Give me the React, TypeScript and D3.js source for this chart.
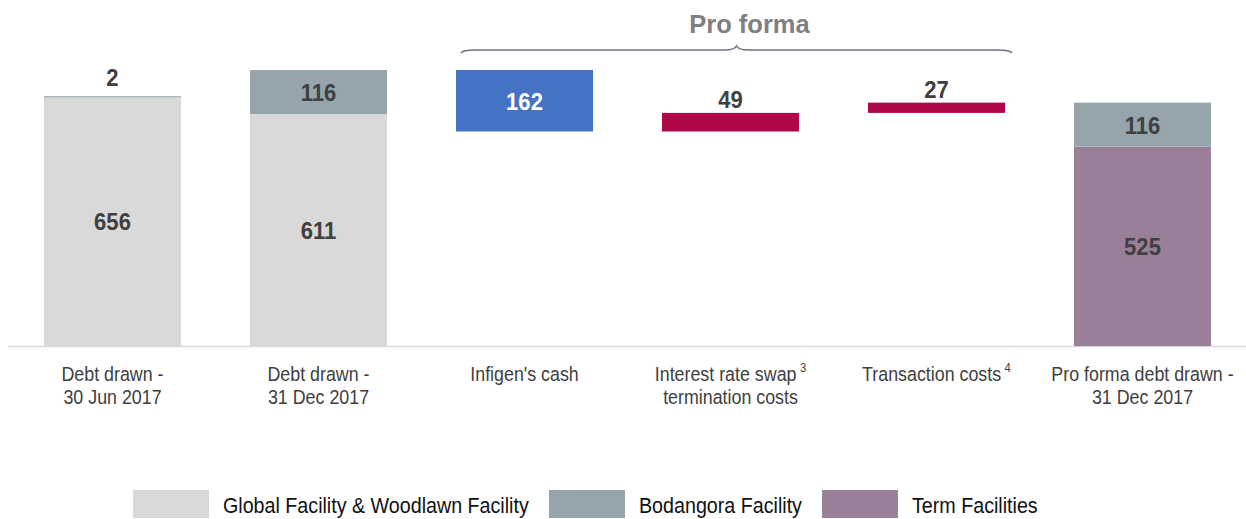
import React from "react";
import * as d3 from "d3";

const categories: string[][] = [
  ["Debt drawn -", "30 Jun 2017"],
  ["Debt drawn -", "31 Dec 2017"],
  ["Infigen's cash"],
  ["Interest rate swap", "termination costs"],
  ["Transaction costs"],
  ["Pro forma debt drawn -", "31 Dec 2017"],
];
const footnotes: (string | null)[] = [null, null, null, "3", "4", null];

// stacked totals (null = waterfall step)
const globalFacility: (number | null)[] = [656, 611, null, null, null, 0];
const termFacilities: (number | null)[] = [0, 0, null, null, null, 525];
const bodangoraFacility: (number | null)[] = [2, 116, null, null, null, 116];

// waterfall adjustments
const adjustments: (number | null)[] = [null, null, -162, 49, 27, null];
const adjustmentColors: (string | null)[] = [null, null, "#4472c4", "#b0064a", "#b0064a", null];

const legendLabels = ["Global Facility & Woodlawn Facility", "Bodangora Facility", "Term Facilities"];
const seriesColors = { global: "#d9d9d9", bodangora: "#95a5ab", term: "#9a7f99" };

const W = 1246;
const H = 519;
const FONT = "'Liberation Sans', Arial, sans-serif";

const VAL_SIZE = 24;
const VAL_SX = 0.92;
const CAT_SIZE = 20.5;
const CAT_SX = 0.87;
const CAT_LINE = 22.5;
const LEG_SIZE = 22;
const LEG_SX = 0.895;

function SText(props: {
  x: number;
  y: number;
  sx: number;
  size: number;
  anchor?: string;
  weight?: string;
  fill: string;
  children: React.ReactNode;
}) {
  return (
    <text
      transform={`translate(${props.x},${props.y}) scale(${props.sx},1)`}
      textAnchor={props.anchor ?? "middle"}
      fontFamily={FONT}
      fontWeight={props.weight ?? "normal"}
      fontSize={props.size}
      fill={props.fill}
    >
      {props.children}
    </text>
  );
}

export default function App() {
  const x = d3
    .scaleBand<number>()
    .domain(d3.range(categories.length))
    .range([9.5, 1245.5])
    .paddingInner(0.335)
    .paddingOuter(0.1675);
  const y = d3.scaleLinear().domain([0, 727]).range([346, 70]);
  const bw = x.bandwidth();

  const rows = categories.map((_, i) => ({
    i,
    global: globalFacility[i] ?? 0,
    term: termFacilities[i] ?? 0,
    bodangora: bodangoraFacility[i] ?? 0,
  }));
  const keys = ["global", "term", "bodangora"] as const;
  const stack = d3.stack<any>().keys(keys as any)(rows.filter((r) => globalFacility[r.i] !== null));

  const rects: JSX.Element[] = [];
  const labels: JSX.Element[] = [];

  stack.forEach((layer, li) => {
    const key = keys[li];
    layer.forEach((seg: any) => {
      const i = seg.data.i;
      const v = seg[1] - seg[0];
      if (v <= 0) return;
      const y0 = y(seg[0]);
      const y1 = y(seg[1]);
      rects.push(
        <rect key={`s-${key}-${i}`} x={x(i)} y={y1} width={bw} height={Math.max(y0 - y1, 1)} fill={seriesColors[key]} />
      );
      const cx = (x(i) as number) + bw / 2;
      const inside = y0 - y1 > 24;
      labels.push(
        <SText key={`l-${key}-${i}`} x={cx} y={inside ? (y0 + y1) / 2 + 9 : y1 - 10} sx={VAL_SX} size={VAL_SIZE} weight="bold" fill="#404040">
          {v}
        </SText>
      );
    });
  });

  // waterfall
  let running = (globalFacility[1] ?? 0) + (termFacilities[1] ?? 0) + (bodangoraFacility[1] ?? 0);
  adjustments.forEach((a, i) => {
    if (a === null) return;
    const start = running;
    const end = running + a;
    running = end;
    const top = y(Math.max(start, end));
    const bot = y(Math.min(start, end));
    const cx = (x(i) as number) + bw / 2;
    rects.push(<rect key={`w-${i}`} x={x(i)} y={top} width={bw} height={bot - top} fill={adjustmentColors[i] as string} />);
    labels.push(
      <SText
        key={`wl-${i}`}
        x={cx}
        y={a < 0 ? (top + bot) / 2 + 9 : top - 5}
        sx={VAL_SX}
        size={VAL_SIZE}
        weight="bold"
        fill={a < 0 ? "#ffffff" : "#404040"}
      >
        {Math.abs(a)}
      </SText>
    );
  });

  // brace over pro forma
  const bx0 = (x(2) as number) + 5;
  const bx1 = (x(4) as number) + bw + 7;
  const bmid = (bx0 + bx1) / 2;
  const by = 50;
  const bp = d3.path();
  bp.moveTo(bx0, by + 3);
  bp.quadraticCurveTo(bx0 + 2, by, bx0 + 14, by);
  bp.lineTo(bmid - 12, by);
  bp.quadraticCurveTo(bmid - 2, by, bmid, by - 4);
  bp.quadraticCurveTo(bmid + 2, by, bmid + 12, by);
  bp.lineTo(bx1 - 14, by);
  bp.quadraticCurveTo(bx1 - 2, by, bx1, by + 3);

  const legendX = [133, 549, 822];
  const legendColors = [seriesColors.global, seriesColors.bodangora, seriesColors.term];

  return (
    <svg width={W} height={H} style={{ position: "absolute", left: 0, top: 0, background: "#fff" }}>
      <line x1={8} x2={W} y1={y(0) + 0.5} y2={y(0) + 0.5} stroke="#d9d9d9" strokeWidth={1.5} />
      {rects}
      {labels}
      <path d={bp.toString()} fill="none" stroke="#6e7480" strokeWidth={1.5} />
      <text x={bmid + 13} y={33} textAnchor="middle" fontFamily={FONT} fontWeight="bold" fontSize={25.5} fill="#7f7f7f">
        Pro forma
      </text>
      {categories.map((lines, i) => {
        const cx = (x(i) as number) + bw / 2;
        return (
          <g key={`c-${i}`}>
            {lines.map((ln, li) => (
              <SText key={li} x={cx} y={381 + li * CAT_LINE} sx={CAT_SX} size={CAT_SIZE} fill="#404040">
                {ln}
                {li === 0 && footnotes[i] ? (
                  <tspan dx={4} dy={-9} fontSize={13}>
                    {footnotes[i]}
                  </tspan>
                ) : null}
              </SText>
            ))}
          </g>
        );
      })}
      {legendLabels.map((lab, i) => (
        <g key={`lg-${i}`}>
          <rect x={legendX[i]} y={490} width={76} height={28} fill={legendColors[i]} />
          <SText x={legendX[i] + 90} y={513} sx={LEG_SX} size={LEG_SIZE} anchor="start" fill="#111">
            {lab}
          </SText>
        </g>
      ))}
    </svg>
  );
}
